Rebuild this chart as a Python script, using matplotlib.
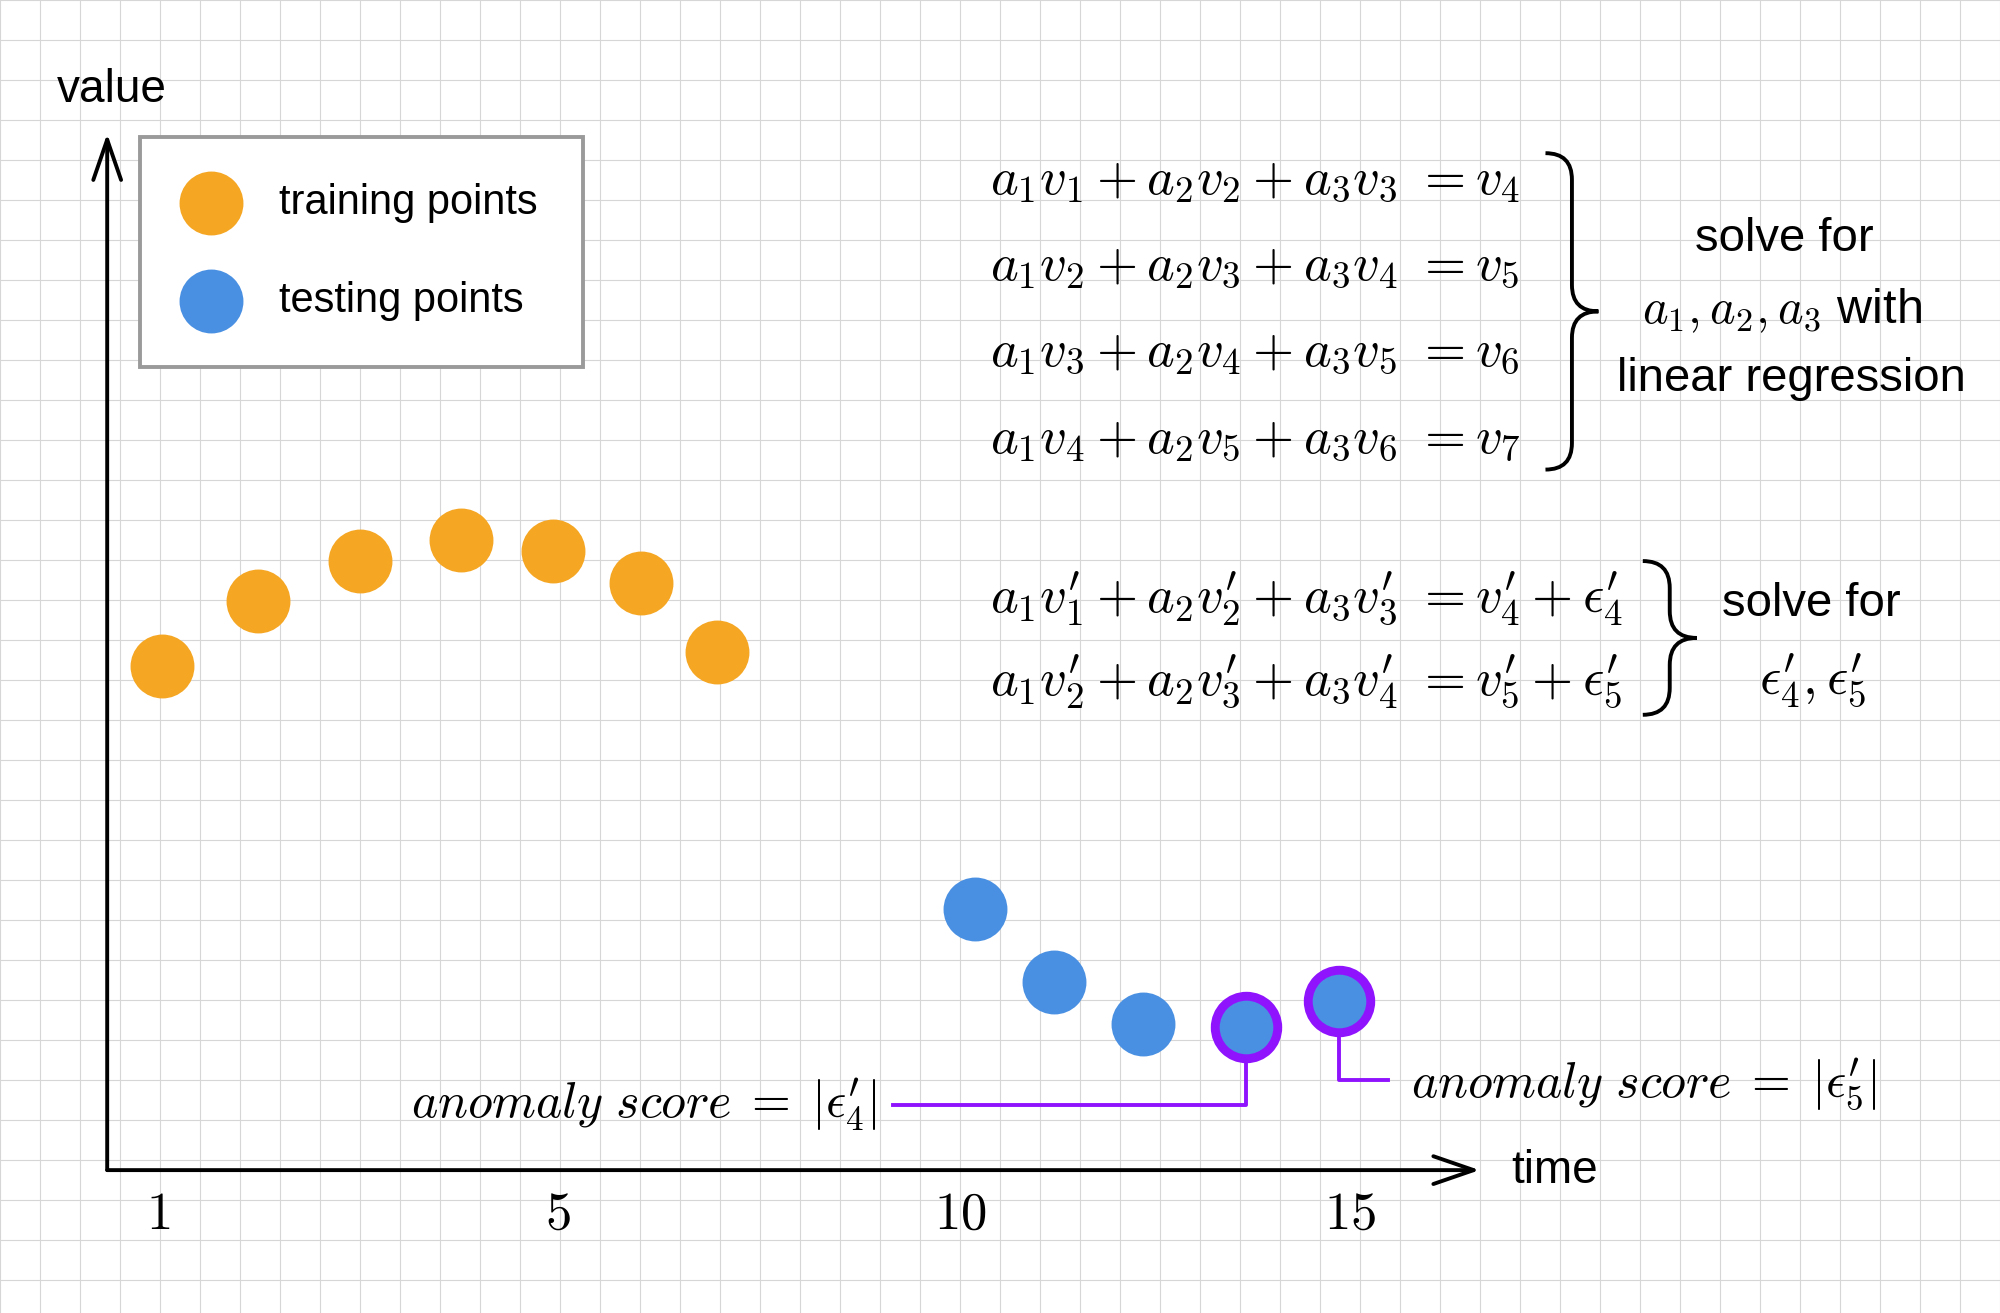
import numpy as np
import matplotlib.pyplot as plt
from matplotlib.path import Path
from matplotlib.patches import PathPatch

plt.rcParams['font.family'] = ['Liberation Sans', 'DejaVu Sans']
plt.rcParams['mathtext.fontset'] = 'cm'

# data
train_t = [1.04, 2.00, 3.02, 4.03, 4.96, 5.84, 6.60]
train_v = [5.05, 5.70, 6.10, 6.31, 6.20, 5.88, 5.19]
test_t = [9.18, 9.98, 10.87, 11.90, 12.83]
test_v = [2.62, 1.88, 1.46, 1.43, 1.69]
anomalous = [3, 4]  # index in the testing points
tick_pos = [1.0, 5.0, 9.04, 12.94]
tick_labels = ['1', '5', '10', '15']

ORANGE = '#F5A623'
BLUE = '#4A90E2'
PURPLE = '#9013FE'

fig = plt.figure(figsize=(20, 13.13), dpi=100)

# graph paper background
bg = fig.add_axes([0, 0, 1, 1], zorder=0)
bg.set_xlim(0, 2000)
bg.set_ylim(1313, 0)
bg.axis('off')
for g in np.arange(0, 2001, 40):
    bg.axvline(g, color='#d6d6d6', lw=0.8)
for g in np.arange(0, 1314, 40):
    bg.axhline(g, color='#d6d6d6', lw=0.8)

ax = fig.add_axes([0, 0, 1, 1], zorder=1)
ax.patch.set_alpha(0)
ax.set_xlim(-0.585, 19.454)
ax.set_ylim(-1.431, 11.719)
ax.axis('off')

x0 = 0.489
arrow = dict(arrowstyle='->,head_length=2.9,head_width=1.0', lw=2.8, color='black',
             shrinkA=0, shrinkB=0)
ax.annotate('', xy=(x0, 10.38), xytext=(x0, 0), arrowprops=arrow)
ax.annotate('', xy=(14.24, 0), xytext=(x0, 0), arrowprops=arrow)
ax.text(0.54, 10.82, 'value', fontsize=33, ha='center', va='center')
ax.text(14.56, -0.01, 'time', fontsize=33, ha='left', va='center')
for p, lab in zip(tick_pos, tick_labels):
    ax.text(p, -0.447, '$' + lab + '$', fontsize=38, ha='center', va='center')

# points
sz = 46 ** 2
ax.scatter(train_t, train_v, s=sz, color=ORANGE, lw=0, zorder=3, label='training points')
ax.scatter(test_t, test_v, s=sz, color=BLUE, lw=0, zorder=3, label='testing points')
at = [test_t[i] for i in anomalous]
av = [test_v[i] for i in anomalous]
ax.scatter(at, av, s=45 ** 2, facecolor=BLUE, edgecolor=PURPLE, lw=6.4, zorder=4)

leg = ax.legend(loc='upper left', bbox_to_anchor=(0.821, 10.35), bbox_transform=ax.transData,
                borderaxespad=0, fontsize=30, frameon=True, fancybox=False,
                edgecolor='#9a9a9a', framealpha=1, facecolor='white',
                labelspacing=1.4, borderpad=1.1, handlelength=1.18, handletextpad=1.04,
                scatterpoints=1)
leg.get_frame().set_linewidth(2.8)

# leader lines to the anomaly scores
ring = 0.36
ax.plot([at[0], at[0], 8.36], [av[0] - ring, 0.652, 0.652], color=PURPLE, lw=2.8, zorder=2)
ax.plot([at[1], at[1], 13.32], [av[1] - ring, 0.907, 0.907], color=PURPLE, lw=2.8, zorder=2)
ax.text(8.195, 0.652, r"$anomaly\ score\;=\;|\epsilon^{\prime}_4|$", fontsize=36,
        ha='right', va='center')
ax.text(13.55, 0.856, r"$anomaly\ score\;=\;|\epsilon^{\prime}_5|$", fontsize=36,
        ha='left', va='center')

# equations
eq1 = [r'$a_1v_1 + a_2v_2 + a_3v_3\ = v_4$',
       r'$a_1v_2 + a_2v_3 + a_3v_4\ = v_5$',
       r'$a_1v_3 + a_2v_4 + a_3v_5\ = v_6$',
       r'$a_1v_4 + a_2v_5 + a_3v_6\ = v_7$']
for k, s in enumerate(eq1):
    ax.text(9.33, 9.93 - k * 0.865, s, fontsize=38, ha='left', va='center')
eq2 = [r"$a_1v^{\prime}_1 + a_2v^{\prime}_2 + a_3v^{\prime}_3\ = v^{\prime}_4 + \epsilon^{\prime}_4$",
       r"$a_1v^{\prime}_2 + a_2v^{\prime}_3 + a_3v^{\prime}_4\ = v^{\prime}_5 + \epsilon^{\prime}_5$"]
for k, s in enumerate(eq2):
    ax.text(9.33, 5.73 - k * 0.84, s, fontsize=38, ha='left', va='center')


def brace(xl, ytop, ybot, w):
    ym = (ytop + ybot) / 2
    xm = xl + w / 2
    q = w / 2
    verts = [(xl, ytop), (xm, ytop), (xm, ytop - q),
             (xm, ym + q),
             (xm, ym), (xl + w, ym),
             (xm, ym), (xm, ym - q),
             (xm, ybot + q),
             (xm, ybot), (xl, ybot)]
    codes = [Path.MOVETO, Path.CURVE3, Path.CURVE3, Path.LINETO,
             Path.CURVE3, Path.CURVE3, Path.CURVE3, Path.CURVE3,
             Path.LINETO, Path.CURVE3, Path.CURVE3]
    ax.add_patch(PathPatch(Path(verts, codes), fill=False, lw=2.8, color='black'))


brace(14.90, 10.185, 7.016, 0.53)
brace(15.875, 6.10, 4.56, 0.54)

ax.text(17.29, 9.33, 'solve for', fontsize=34, ha='center', va='center')
ax.text(17.27, 8.61, r'$a_1, a_2, a_3$ with', fontsize=35, ha='center', va='center')
ax.text(17.36, 7.92, 'linear regression', fontsize=34, ha='center', va='center')
ax.text(17.56, 5.67, 'solve for', fontsize=34, ha='center', va='center')
ax.text(17.58, 4.90, r"$\epsilon^{\prime}_4, \epsilon^{\prime}_5$", fontsize=38,
        ha='center', va='center')

fig.savefig('out.png', dpi=100)
